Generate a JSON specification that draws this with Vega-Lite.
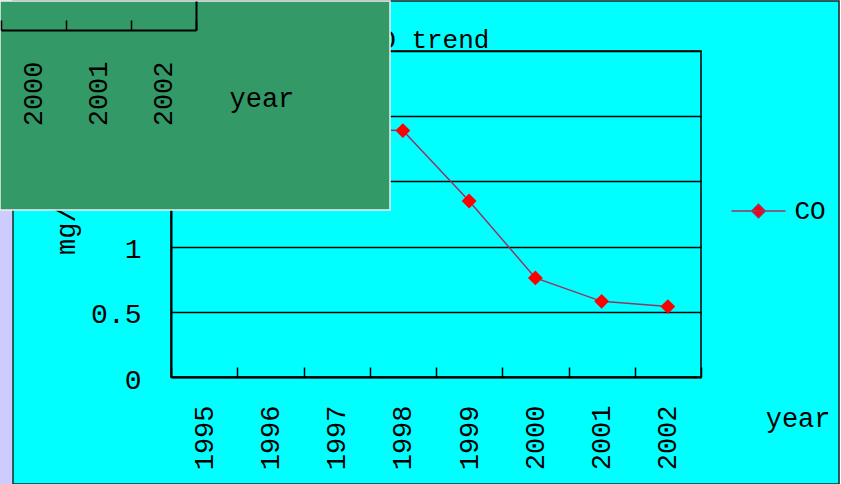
{
  "$schema": "https://vega.github.io/schema/vega-lite/v6.json",
  "background": "#CCCCFF",
  "padding": {"left": -15, "top": 0, "right": 0, "bottom": 0},
  "config": {
    "font": "Liberation Mono",
    "axis": {
      "domainColor": "black", "tickColor": "black", "gridColor": "black",
      "labelColor": "black", "titleColor": "black",
      "labelFont": "Liberation Mono", "titleFont": "Liberation Mono",
      "labelFontSize": 27, "titleFontSize": 27, "titleFontWeight": "normal",
      "domainWidth": 2, "tickWidth": 1.5, "gridWidth": 1.3, "gridOpacity": 1
    }
  },
  "datasets": {
    "co": [
      {"year": "1995", "CO": 2.1, "series": "CO"},
      {"year": "1996", "CO": 2.0, "series": "CO"},
      {"year": "1997", "CO": 1.9, "series": "CO"},
      {"year": "1998", "CO": 1.89, "series": "CO"},
      {"year": "1999", "CO": 1.35, "series": "CO"},
      {"year": "2000", "CO": 0.76, "series": "CO"},
      {"year": "2001", "CO": 0.58, "series": "CO"},
      {"year": "2002", "CO": 0.54, "series": "CO"}
    ],
    "heading": [{"title": "CO trend"}]
  },
  "bounds": "full",
  "align": "none",
  "spacing": -855,
  "hconcat": [
    {
      "width": 826,
      "height": 483,
      "data": {"values": []},
      "view": {"fill": "#00FFFF", "stroke": "#1A2A2A", "strokeWidth": 1.5},
      "mark": "point"
    },
    {
      "bounds": "full",
      "align": "none",
      "spacing": -846,
      "hconcat": [
        {
          "align": "none",
          "spacing": -56,
          "vconcat": [
            {
              "width": 530,
              "height": 94,
              "data": {"name": "heading"},
              "view": {"stroke": null, "fill": null},
              "mark": {"type": "text", "font": "Liberation Mono", "fontSize": 26, "color": "black", "baseline": "alphabetic", "align": "center", "dx": -9},
              "encoding": {"text": {"field": "title", "type": "nominal"}}
            },
            {
              "width": 530,
              "height": 326,
              "data": {"name": "co"},
              "view": {"stroke": "black", "strokeWidth": 1.5},
              "encoding": {
                "x": {
                  "field": "year", "type": "ordinal", "bandPosition": 0.5,
                  "scale": {"type": "band", "paddingInner": 0, "paddingOuter": 0},
                  "axis": {
                    "labelAngle": 270, "tickBand": "extent", "tickSize": -10, "labelPadding": 38,
                    "grid": false, "title": "year", "titleX": 659, "titleY": 49,
                    "titleAlign": "right", "titleBaseline": "alphabetic"
                  }
                },
                "y": {
                  "field": "CO", "type": "quantitative",
                  "scale": {"domain": [0, 2.5], "nice": false},
                  "axis": {
                    "values": [0, 0.5, 1, 1.5, 2, 2.5], "format": "~g", "ticks": false, "grid": true,
                    "labelPadding": 30, "labelOffset": 3, "labelFontSize": 28,
                    "title": "mg/m3", "titleAngle": 270, "titleX": -105, "titleY": 163,
                    "titleAlign": "center", "titleBaseline": "middle"
                  }
                }
              },
              "layer": [
                {
                  "mark": {"type": "line", "strokeWidth": 1.5},
                  "encoding": {
                    "color": {
                      "field": "series", "type": "nominal",
                      "scale": {"range": ["#993366"]},
                      "legend": {
                        "title": null, "orient": "none", "legendX": 717.5, "legendY": 182, "padding": 0,
                        "symbolType": "M-1,0L1,0M0,-0.25L0.25,0L0,0.25L-0.25,0Z",
                        "symbolSize": 2916, "symbolStrokeWidth": 1.5,
                        "symbolStrokeColor": "#993366", "symbolFillColor": "#FF0000",
                        "labelFont": "Liberation Mono", "labelFontSize": 26, "labelColor": "black", "labelOffset": 8,
                        "encode": {"symbols": {"update": {"fill": {"value": "#FF0000"}, "stroke": {"value": "#993366"}}}}
                      }
                    }
                  }
                },
                {
                  "mark": {"type": "point", "shape": "diamond", "filled": true, "size": 220, "color": "#FF0000", "opacity": 1}
                }
              ]
            }
          ]
        },
        {
          "width": 390,
          "height": 209,
          "data": {"name": "co"},
          "transform": [{"filter": "datum.year >= '2000'"}],
          "view": {"fill": "#339966", "stroke": "#F0F0F0", "strokeWidth": 1.5},
          "mark": {"type": "line", "clip": true, "color": "#993366", "strokeWidth": 1.5},
          "encoding": {
            "x": {
              "field": "year", "type": "ordinal", "bandPosition": 0.5,
              "scale": {"type": "band", "paddingInner": 0, "paddingOuter": 0, "range": [1, 196]},
              "axis": {
                "orient": "bottom", "offset": -180, "labelAngle": 270, "tickBand": "extent",
                "tickSize": -10, "labelPadding": 41, "grid": false,
                "title": "year", "titleX": 229, "titleY": 76, "titleAlign": "left", "titleBaseline": "alphabetic"
              }
            },
            "y": {
              "field": "CO", "type": "quantitative",
              "scale": {"domain": [0, 0.223], "nice": false, "zero": true, "range": [29, 0]},
              "axis": {"orient": "right", "offset": -194, "ticks": false, "labels": false, "grid": false, "title": null}
            }
          }
        }
      ]
    }
  ]
}
